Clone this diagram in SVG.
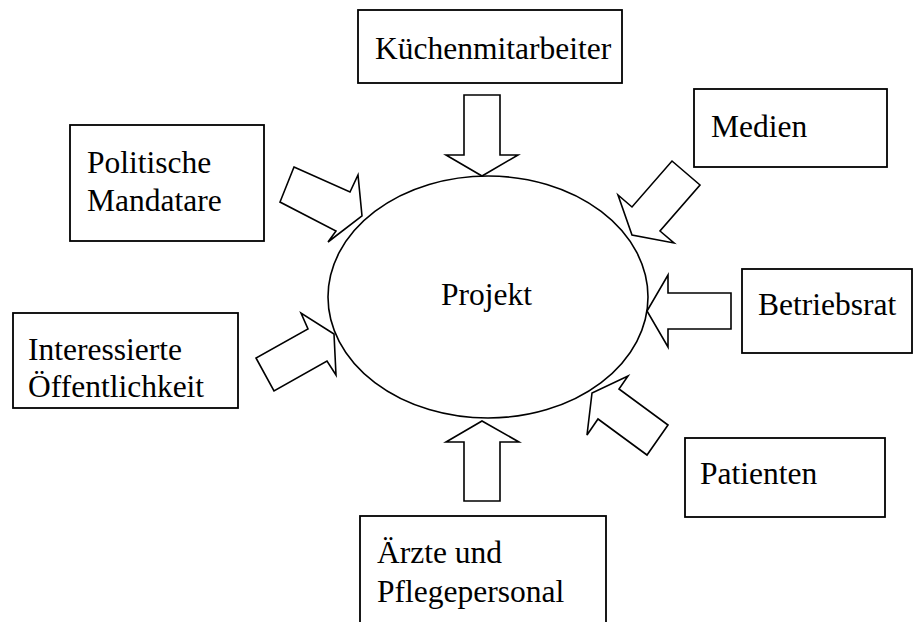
<svg xmlns="http://www.w3.org/2000/svg" width="914" height="622" viewBox="0 0 914 622">
<style>
.box{fill:#fff;stroke:#000;stroke-width:1.8}
.arr{fill:#fff;stroke:#000;stroke-width:1.6;stroke-linejoin:miter}
text{font-family:"Liberation Serif","Times New Roman",serif;font-size:31.5px;fill:#000}
</style>
<rect width="914" height="622" fill="#fff"/>
<g id="projekt">
<ellipse cx="488" cy="297" rx="160" ry="121" fill="#fff" stroke="#000" stroke-width="1.6"/>
<text x="441" y="305">Projekt</text>
</g>
<g id="kuechenmitarbeiter">
<rect class="box" x="358" y="10" width="264" height="73"/>
<text x="375" y="59">Küchenmitarbeiter</text>
</g>
<g id="medien">
<rect class="box" x="694" y="89" width="193" height="78"/>
<text x="711" y="137">Medien</text>
</g>
<g id="politische">
<rect class="box" x="70" y="125" width="194" height="116"/>
<text x="87" y="173">Politische</text>
<text x="87" y="211">Mandatare</text>
</g>
<g id="betriebsrat">
<rect class="box" x="742" y="269" width="170" height="84"/>
<text x="758" y="315">Betriebsrat</text>
</g>
<g id="interessierte">
<rect class="box" x="13" y="313" width="225" height="95"/>
<text x="28" y="360">Interessierte</text>
<text x="28" y="397">Öffentlichkeit</text>
</g>
<g id="patienten">
<rect class="box" x="685" y="438" width="200" height="79"/>
<text x="700" y="484">Patienten</text>
</g>
<g id="aerzte">
<rect class="box" x="360" y="516" width="246" height="120"/>
<text x="377" y="563">Ärzte und</text>
<text x="377" y="602">Pflegepersonal</text>
</g>
<g id="connectors">
<polygon class="arr" points="464,95 500,95 500,155 518,155 482,176 446,155 464,155"/>
<polygon class="arr" points="731,293 731,329 668,329 668,347 647,311 668,275 668,293"/>
<polygon class="arr" points="464,501 500,501 500,442 519,442 482,421 446,442 464,442"/>
<polygon class="arr" points="294,167 350,192 358,175 362,216 328,242 336,231 280,202"/>
<polygon class="arr" points="672,161 700,185 660,231 674,243 632,235 618,195 632,207"/>
<polygon class="arr" points="668,425 647,455 598,419 587,435 592,393 628,376 619,389"/>
<polygon class="arr" points="256,358 274,391 327,361 336,375 334,334 301,313 308,329"/>
</g>
</svg>
